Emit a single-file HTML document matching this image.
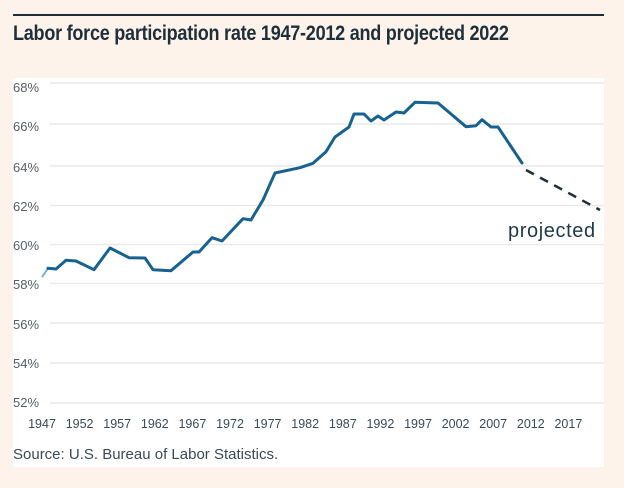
<!DOCTYPE html>
<html><head><meta charset="utf-8"><style>
html,body{margin:0;padding:0;}
body{width:624px;height:488px;background:#fdf3eb;position:relative;overflow:hidden;font-family:"Liberation Sans",sans-serif;}
.rule{position:absolute;left:13px;top:14px;width:591px;height:2px;background:#1e2f3a;}
.title{position:absolute;left:13px;top:22px;font-family:"Liberation Sans Narrow","Liberation Sans",sans-serif;font-weight:bold;font-size:21px;color:#1e2f3a;letter-spacing:-0.3px;white-space:nowrap;transform:scaleX(0.86);transform-origin:0 0;}
.panel{position:absolute;left:13px;top:78px;width:591px;height:389px;background:#fff;}
svg{position:absolute;left:0;top:0;}
</style></head><body>
<div class="rule"></div>
<div class="title">Labor force participation rate 1947-2012 and projected 2022</div>
<div class="panel"></div>
<svg width="624" height="488" viewBox="0 0 624 488">
<g stroke="#e9e9e9" stroke-width="1.5">
<line x1="50" x2="604" y1="83" y2="83"/>
<line x1="50" x2="604" y1="124" y2="124"/>
<line x1="50" x2="604" y1="166" y2="166"/>
<line x1="50" x2="604" y1="205.5" y2="205.5"/>
<line x1="50" x2="604" y1="244.5" y2="244.5"/>
<line x1="50" x2="604" y1="283.5" y2="283.5"/>
<line x1="50" x2="604" y1="323" y2="323"/>
<line x1="50" x2="604" y1="363" y2="363"/>
<line x1="50" x2="604" y1="403" y2="403"/>
</g>
<g font-family="Liberation Sans, sans-serif" font-size="13" fill="#555e66">
<text x="13" y="92">68%</text>
<text x="13" y="131">66%</text>
<text x="13" y="172">64%</text>
<text x="13" y="211">62%</text>
<text x="13" y="250">60%</text>
<text x="13" y="289">58%</text>
<text x="13" y="329">56%</text>
<text x="13" y="368">54%</text>
<text x="13" y="407">52%</text>
</g>
<g font-family="Liberation Sans, sans-serif" font-size="12.5" fill="#3b4a55" text-anchor="middle">
<text x="42" y="428">1947</text><text x="79.6" y="428">1952</text><text x="117.2" y="428">1957</text>
<text x="154.8" y="428">1962</text><text x="192.4" y="428">1967</text><text x="230" y="428">1972</text>
<text x="267.6" y="428">1977</text><text x="305.2" y="428">1982</text><text x="342.8" y="428">1987</text>
<text x="380.4" y="428">1992</text><text x="418" y="428">1997</text><text x="455.6" y="428">2002</text>
<text x="493.2" y="428">2007</text><text x="530.8" y="428">2012</text><text x="568.4" y="428">2017</text>
</g>
<text x="13" y="459" font-family="Liberation Sans, sans-serif" font-size="15" fill="#3b4a55">Source: U.S. Bureau of Labor Statistics.</text>
<line x1="42" y1="277" x2="48" y2="268.3" stroke="#7ab0d6" stroke-width="2"/>
<polyline fill="none" stroke="#17628f" stroke-width="3" stroke-linejoin="round" stroke-linecap="round" points="48,268.3 56,269 66,260.3 76,261 94,269.7 110,248 129,257.7 145,258 153,269.7 171,270.7 193,252 199,252 212,237.7 222,241 243,218.7 251,220 263,200 275,173 300,167.7 313,163.3 326,151.7 335,137 349,127 354,114 364,114 371,121 378,116 384,120 396,112 404,113 415,102.3 438,103 466,126.7 476,125.7 482,119.7 491,127 498,127 522,163"/>
<line x1="526" y1="170" x2="600" y2="210" stroke="#1e2f3a" stroke-width="2.5" stroke-dasharray="9,7"/>
<text x="508" y="237" font-family="Liberation Sans, sans-serif" font-size="20" letter-spacing="0.6" fill="#1e3a4a">projected</text>
</svg>
</body></html>
